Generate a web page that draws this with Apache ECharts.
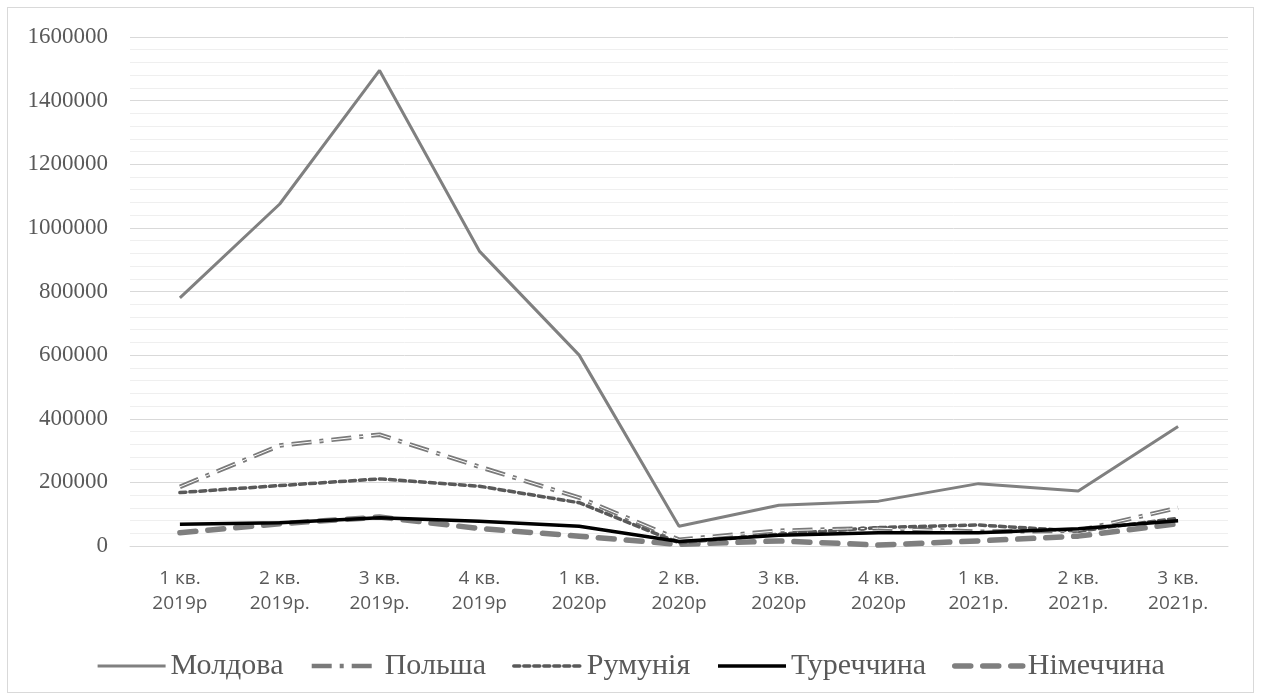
<!DOCTYPE html>
<html><head><meta charset="utf-8">
<script src="https://cdn.jsdelivr.net/npm/echarts@6/dist/echarts.min.js"></script>
<style>html,body{margin:0;padding:0;background:#fff}
#wrap{position:absolute;left:7px;top:7px;width:1245px;height:684px;border:1px solid #d9d9d9;}
#c{position:absolute;left:0;top:0;width:1261px;height:700px}</style>
</head><body><div id="wrap"></div><div id="c"></div>
<script>
const categories = ['1 кв.\n2019р','2 кв.\n2019р.','3 кв.\n2019р.','4 кв.\n2019р','1 кв.\n2020р','2 кв.\n2020р','3 кв.\n2020р','4 кв.\n2020р','1 кв.\n2021р.','2 кв.\n2021р.','3 кв.\n2021р.'];
const moldova = [780000,1075000,1495000,927000,600000,62000,128000,141000,196000,173000,376000];
const poland  = [186000,316000,350000,249000,152000,20000,48000,56000,45000,48000,120000];
const romania = [168000,190000,211000,188000,136000,10000,37000,58000,66000,47000,87000];
const turkey  = [68000,73000,89000,78000,62000,14000,34000,42000,42000,54000,79000];
const germany = [42000,70000,91000,55000,31000,5000,16000,3000,16000,31000,70000];
const yTicks = [0,200000,400000,600000,800000,1000000,1200000,1400000,1600000];

const chart = echarts.init(document.getElementById('c'));
const serif = 'Liberation Serif';
chart.setOption({
  animation:false,
  grid:{left:130,right:33,top:37,bottom:154},
  legend:{
    bottom:14, left:'center', itemWidth:68, itemHeight:14, itemGap:26,
    data:['Молдова','Польша','Румунія','Туреччина','Німеччина'],
    itemStyle:{opacity:0},
    lineStyle:{width:'inherit'},
    textStyle:{fontFamily:serif,fontSize:30,color:'#595959'}
  },
  xAxis:{type:'category',data:categories,boundaryGap:true,
    axisLine:{show:true,lineStyle:{color:'#d9d9d9',width:1}},axisTick:{show:false},
    axisLabel:{fontFamily:'Open Sans',fontSize:19,color:'#595959',lineHeight:25,margin:20}},
  yAxis:{type:'value',min:yTicks[0],max:yTicks[yTicks.length-1],interval:200000,
    axisLine:{show:false},axisTick:{show:false},
    axisLabel:{fontFamily:serif,fontSize:23,color:'#595959',margin:22,formatter:v=>String(v)},
    splitLine:{lineStyle:{color:'#d9d9d9',width:1}},
    minorTick:{show:false,splitNumber:5},
    minorSplitLine:{show:true,lineStyle:{color:'#efefef',width:1}}},
  series:[
    {name:'Молдова',type:'line',data:moldova,symbol:'none',lineStyle:{color:'#808080',width:3},itemStyle:{color:'#808080'},z:5},
    {name:'Польша',type:'line',data:poland,symbol:'none',lineStyle:{color:'#7a7a7a',width:4.5,type:[20,8,4,8]},itemStyle:{color:'#7a7a7a'},z:3},
    {name:'Польша2',type:'line',data:poland,symbol:'none',silent:true,lineStyle:{color:'#ffffff',width:1,type:[20,8,4,8]},z:4},
    {name:'Румунія',type:'line',data:romania,symbol:'none',lineStyle:{color:'#595959',width:3.5,type:[6,4],cap:'round'},itemStyle:{color:'#595959'},z:3},
    {name:'Туреччина',type:'line',data:turkey,symbol:'none',lineStyle:{color:'#000000',width:3.5},itemStyle:{color:'#000000'},z:6},
    {name:'Німеччина',type:'line',data:germany,symbol:'none',lineStyle:{color:'#7f7f7f',width:5.5,type:[16,12],cap:'round'},itemStyle:{color:'#7f7f7f'},z:2}
  ]
});
</script></body></html>
